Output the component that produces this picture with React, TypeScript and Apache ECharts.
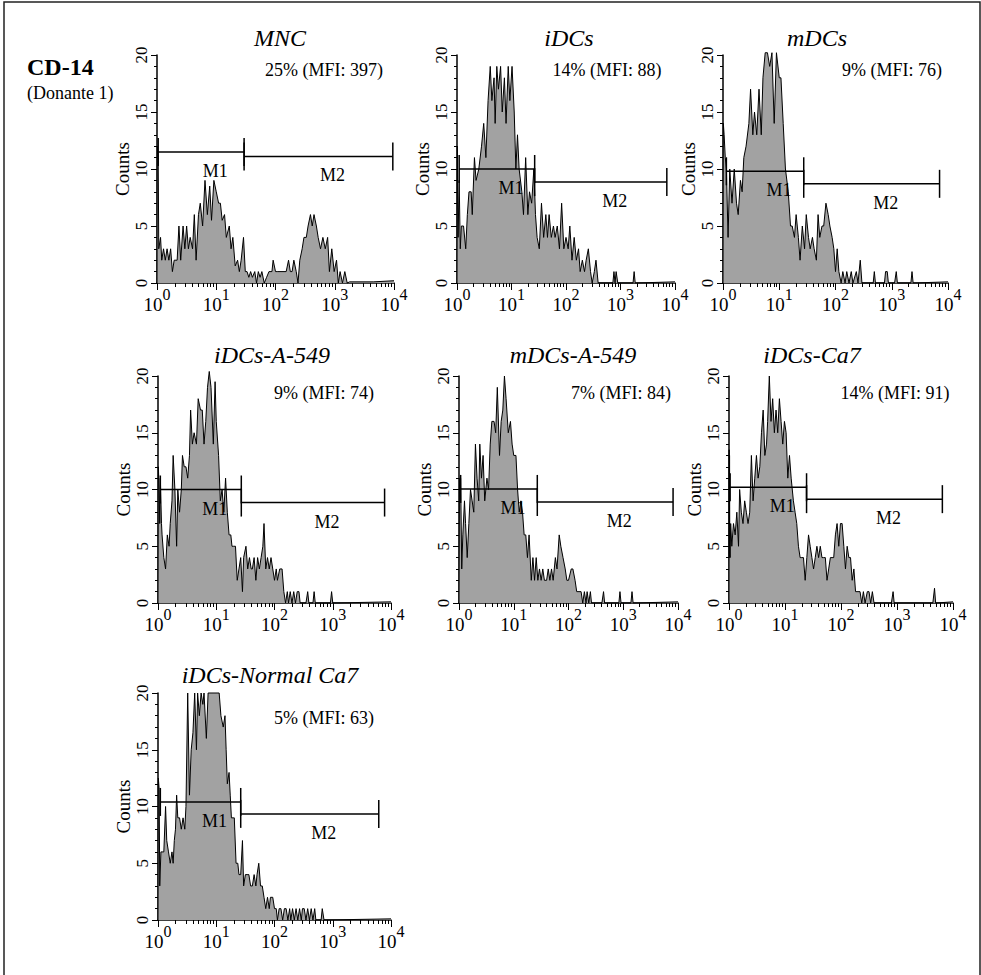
import React, { useEffect, useRef } from "react";
import * as echarts from "echarts";

// ---------- DATA (x in log10 units of fluorescence, y = counts) ----------
const panelTitles = ["MNC", "iDCs", "mDCs", "iDCs-A-549", "mDCs-A-549", "iDCs-Ca7", "iDCs-Normal Ca7"];
const percents = ["25%", "14%", "9%", "9%", "7%", "14%", "5%"];
const mfiValues = [397, 88, 76, 74, 84, 91, 63];
const markerNames = ["M1", "M2"];
const xTickDecades = [0, 1, 2, 3, 4];
const yTicks = [0, 5, 10, 15, 20];

// gates: [start (log10), end (log10), level (counts)]
const m1Gates = [
  [0.02, 1.47, 11.5], [0.04, 1.425, 10.0], [0.06, 1.435, 9.8], [0.04, 1.43, 10.0],
  [0.03, 1.43, 10.05], [0.02, 1.385, 10.2], [0.04, 1.42, 10.4],
];
const m2Gates = [
  [1.47, 3.98, 11.1], [1.425, 3.85, 8.85], [1.435, 3.85, 8.7], [1.43, 3.89, 8.85],
  [1.43, 3.91, 8.9], [1.385, 3.81, 9.15], [1.42, 3.79, 9.35],
];

const mncData = [[0,0],[0.005,12],[0.02,11],[0.03,3],[0.06,4],[0.08,2],[0.11,3],[0.14,2],[0.17,3],[0.2,2],[0.23,3],[0.26,1],[0.29,2],[0.34,2],[0.37,5],[0.4,2],[0.44,5],[0.47,3],[0.5,5],[0.53,3],[0.56,4],[0.6,3],[0.63,6],[0.66,2],[0.7,6],[0.73,7],[0.77,5],[0.81,9],[0.85,6],[0.89,8.5],[0.92,5.5],[0.96,9],[1.0,8],[1.04,7],[1.07,7],[1.1,5.5],[1.14,6],[1.17,4],[1.22,5],[1.25,3],[1.28,4],[1.32,1.5],[1.36,2],[1.39,1],[1.42,2],[1.46,4],[1.49,1],[1.52,1],[1.55,0.5],[1.58,1],[1.61,0.5],[1.65,1],[1.68,0],[1.71,1],[1.74,0.5],[1.77,1],[1.81,0],[1.85,0.5],[1.89,1],[1.94,1],[1.96,2],[2.0,1],[2.04,1],[2.18,1],[2.22,2],[2.25,1],[2.28,1],[2.31,2],[2.35,1],[2.38,0],[2.41,2],[2.45,3],[2.48,4],[2.52,4],[2.55,5],[2.59,6],[2.62,5],[2.65,6],[2.69,5],[2.72,4],[2.76,3],[2.8,4],[2.84,3],[2.88,4],[2.91,1],[2.95,3],[2.99,1],[3.03,2],[3.06,0],[3.09,1],[3.13,0],[3.17,1],[3.21,0],[3.25,0.1],[3.65,0.1],[4.0,0.2]];

const idcsData = [[0,0],[0.006,12],[0.02,4],[0.04,9],[0.06,3],[0.08,5],[0.12,5],[0.16,3],[0.19,6],[0.22,8],[0.26,8],[0.28,6],[0.32,11],[0.35,9],[0.4,10],[0.45,12],[0.49,14],[0.53,11],[0.57,16],[0.61,19],[0.64,16],[0.68,18],[0.7,14],[0.73,19],[0.76,17],[0.8,19],[0.83,15],[0.87,18],[0.9,14],[0.94,19],[0.97,16],[1.01,19],[1.05,15],[1.08,10],[1.11,13],[1.14,10],[1.19,8],[1.22,6],[1.26,11],[1.3,6],[1.33,8],[1.37,7],[1.41,10],[1.44,6],[1.47,4],[1.51,3],[1.55,7],[1.59,4],[1.63,6],[1.66,4],[1.69,6],[1.73,4],[1.77,5],[1.8,4],[1.84,5],[1.88,3],[1.92,7],[1.96,3],[2.0,4],[2.04,3],[2.07,5],[2.11,2],[2.15,4],[2.19,2],[2.23,3],[2.26,1],[2.3,2],[2.34,1],[2.37,2],[2.41,3],[2.45,1],[2.48,0],[2.52,1],[2.55,2],[2.59,0],[2.86,0],[2.88,1],[2.9,0],[2.92,1],[2.95,0],[3.23,0],[3.25,1],[3.27,0],[4.0,0.1]];

const mdcsData = [[0,0],[0.006,14],[0.02,13],[0.04,11],[0.06,10],[0.09,4],[0.12,10],[0.16,7],[0.2,10],[0.24,7],[0.27,6],[0.31,9],[0.34,8],[0.37,11],[0.41,12],[0.46,14],[0.49,17],[0.53,13],[0.56,15],[0.6,13],[0.64,17],[0.68,13],[0.71,18],[0.75,20.2],[0.79,20.2],[0.83,19],[0.87,20.2],[0.91,14],[0.95,20.2],[1.0,18],[1.03,18],[1.07,14],[1.11,10],[1.16,8],[1.2,5],[1.23,5],[1.27,4],[1.3,6],[1.34,4],[1.37,2],[1.41,5],[1.45,3],[1.48,6],[1.52,4],[1.55,3],[1.59,4],[1.62,3],[1.66,2],[1.69,6],[1.72,4],[1.76,5],[1.79,5],[1.83,7],[1.87,6],[1.9,5],[1.94,4],[1.97,3],[2.0,1],[2.03,3],[2.06,1],[2.1,0],[2.13,1],[2.17,0],[2.2,1],[2.24,0],[2.28,1],[2.31,0],[2.37,1],[2.4,0],[2.44,2],[2.47,0],[2.67,0],[2.69,1],[2.71,0],[2.87,0],[2.89,1],[2.92,1],[2.94,0],[3.05,0],[3.08,1],[3.1,0],[3.34,0],[3.36,1],[3.38,0],[4.0,0.1]];

const idcsA549Data = [[0,0],[0.006,12],[0.02,10],[0.03,7],[0.04,11],[0.06,7],[0.07,6],[0.1,4],[0.13,3],[0.16,6],[0.19,5],[0.21,7],[0.24,9],[0.26,13],[0.29,10],[0.32,5],[0.34,10],[0.37,8],[0.4,10],[0.42,13],[0.45,12],[0.48,12],[0.51,11],[0.54,13],[0.56,17],[0.59,14],[0.62,15],[0.66,14],[0.69,18],[0.73,17],[0.76,17],[0.79,14],[0.82,16],[0.85,19],[0.88,20.4],[0.91,19],[0.95,14],[0.98,19.5],[1.0,16],[1.04,13],[1.07,9],[1.1,10],[1.13,8],[1.16,11],[1.19,8],[1.22,6],[1.25,6],[1.27,5],[1.3,5],[1.33,5],[1.36,2],[1.39,3],[1.42,4],[1.45,1],[1.47,4],[1.51,5],[1.54,3],[1.57,4],[1.6,3],[1.62,3],[1.65,4],[1.68,2],[1.71,4],[1.74,3],[1.77,4],[1.8,5],[1.82,7],[1.85,3],[1.88,4],[1.91,3],[1.94,4],[1.97,3],[2.0,2],[2.03,3],[2.05,2],[2.09,3],[2.13,3],[2.16,1],[2.19,0],[2.22,1],[2.24,0],[2.27,1],[2.3,0],[2.33,1],[2.36,0],[2.39,1],[2.42,1],[2.44,0],[2.54,0],[2.57,1],[2.59,0],[2.66,0],[2.68,1],[2.7,0],[2.96,0],[2.98,1],[3.0,0],[4.0,0.1]];

const mdcsA549Data = [[0,0],[0.01,11],[0.03,11],[0.05,3],[0.07,6],[0.1,9],[0.12,7],[0.15,4],[0.18,7],[0.21,10],[0.24,9],[0.27,8],[0.3,14],[0.33,11],[0.36,9],[0.38,14],[0.41,11],[0.44,13],[0.47,9],[0.51,11],[0.54,10],[0.57,14],[0.6,16],[0.64,16],[0.67,15],[0.7,19],[0.74,13],[0.77,16],[0.8,17],[0.83,20],[0.86,18],[0.9,15],[0.94,16],[0.97,14],[1.0,13],[1.04,13],[1.07,10],[1.1,8],[1.13,9],[1.16,8],[1.19,6],[1.22,6],[1.25,4],[1.28,6],[1.32,2],[1.35,4],[1.38,2],[1.41,4],[1.44,2],[1.47,3],[1.5,2],[1.53,3],[1.56,2],[1.6,2],[1.63,3],[1.66,2],[1.69,3],[1.72,2],[1.76,4],[1.79,3],[1.83,6],[1.86,5],[1.9,4],[1.94,3],[1.97,2],[2.0,2],[2.05,3],[2.08,3],[2.12,2],[2.15,1],[2.23,1],[2.26,0],[2.29,1],[2.32,0],[2.34,1],[2.37,0],[2.4,1],[2.42,0],[2.61,0],[2.64,1],[2.66,0],[2.92,0],[2.94,1],[2.96,0],[3.14,0],[3.16,1],[3.18,0],[4.0,0.1]];

const idcsCa7Data = [[0,0],[0.003,13.5],[0.006,4],[0.01,13],[0.014,5],[0.02,4],[0.03,7],[0.05,5],[0.08,7],[0.11,6],[0.14,8],[0.17,5],[0.19,10],[0.22,8],[0.25,7],[0.28,9],[0.31,8],[0.34,7],[0.37,8],[0.4,13],[0.43,9],[0.46,11],[0.49,13],[0.52,11],[0.55,12],[0.58,15],[0.61,17],[0.64,13],[0.67,14],[0.69,16],[0.72,20],[0.75,16],[0.78,18],[0.81,15],[0.84,17],[0.87,15],[0.9,18],[0.93,16],[0.96,14],[0.99,16],[1.02,15],[1.05,11],[1.08,13],[1.11,11],[1.15,9],[1.18,8],[1.21,7],[1.24,5],[1.27,4],[1.3,4],[1.33,4],[1.36,2],[1.39,4],[1.42,6],[1.45,5],[1.48,4],[1.51,3],[1.54,4],[1.57,5],[1.6,4],[1.63,5],[1.66,4],[1.69,4],[1.72,4],[1.75,2],[1.78,3],[1.81,4],[1.84,4],[1.87,4],[1.9,6],[1.93,7],[1.96,5],[1.99,7],[2.02,7],[2.05,5],[2.08,3],[2.11,5],[2.14,4],[2.17,4],[2.2,2],[2.23,3],[2.26,1],[2.34,1],[2.37,0],[2.4,1],[2.43,0],[2.47,1],[2.5,1],[2.53,0],[2.56,1],[2.59,0],[2.9,0],[2.93,1],[2.95,0],[3.64,0],[3.67,1.3],[3.69,0],[4.0,0.1]];

const idcsNormalCa7Data = [[0,0],[0.006,12.5],[0.02,11.5],[0.03,3],[0.05,6],[0.07,6],[0.1,6],[0.13,10],[0.15,7],[0.18,6],[0.21,5],[0.24,6],[0.26,5],[0.28,7],[0.3,8],[0.32,11],[0.34,9],[0.37,9],[0.4,8],[0.43,9],[0.46,8],[0.48,10],[0.51,20],[0.54,11],[0.57,15],[0.6,16.5],[0.63,20],[0.66,15],[0.68,20],[0.71,18],[0.74,20],[0.77,19],[0.79,20],[0.83,16],[0.86,20],[1.05,20],[1.08,18],[1.12,17],[1.15,18],[1.17,15],[1.19,12],[1.22,13],[1.24,11],[1.26,9],[1.29,9],[1.31,9],[1.34,5],[1.37,5],[1.39,4],[1.42,4],[1.45,7],[1.47,3],[1.5,4],[1.53,4],[1.56,4],[1.59,3],[1.62,3],[1.65,4],[1.68,3],[1.7,4],[1.73,5],[1.76,3],[1.79,3],[1.82,2],[1.85,1],[1.88,2],[1.91,1],[1.93,2],[1.97,2],[2.0,1],[2.03,1],[2.05,0],[2.08,1],[2.11,1],[2.14,0],[2.17,1],[2.2,1],[2.23,0],[2.26,1],[2.28,0],[2.31,1],[2.34,0],[2.37,1],[2.4,0],[2.43,1],[2.46,0],[2.48,1],[2.51,1],[2.54,0],[2.57,1],[2.6,0],[2.63,1],[2.66,0],[2.69,1],[2.71,0],[2.8,0],[2.82,1],[2.85,0],[4.0,0.1]];

const panelData = [mncData, idcsData, mdcsData, idcsA549Data, mdcsA549Data, idcsCa7Data, idcsNormalCa7Data];

// ---------- LAYOUT (pixels) ----------
const layout = [
  { left: 157, top: 55, width: 237, height: 228, tx: 280, ty: 38, nx: 324, ny: 70 },
  { left: 457, top: 55, width: 218, height: 228, tx: 569, ty: 38, nx: 607, ny: 70 },
  { left: 723, top: 55, width: 225, height: 228, tx: 817, ty: 38, nx: 892, ny: 70 },
  { left: 158, top: 376, width: 233, height: 227, tx: 272, ty: 355, nx: 324, ny: 393 },
  { left: 459, top: 376, width: 219, height: 227, tx: 573, ty: 355, nx: 621, ny: 393 },
  { left: 729, top: 376, width: 224, height: 227, tx: 812, ty: 355, nx: 895, ny: 393 },
  { left: 158, top: 693, width: 233, height: 227, tx: 270, ty: 675, nx: 324, ny: 718 },
];

const FONT = '"Liberation Serif", "Times New Roman", serif';
const FILL = "#a2a2a2";

const minorLogTicks: number[] = [];
for (let d = 0; d < 4; d++) {
  for (let k = 1; k <= 9; k++) minorLogTicks.push(d + Math.log10(k));
}
minorLogTicks.push(4);

export default function App() {
  const ref = useRef<HTMLDivElement>(null);
  useEffect(() => {
    if (!ref.current) return;
    const chart = echarts.init(ref.current, null, { renderer: "svg" });

    const grids: any[] = [];
    const xAxes: any[] = [];
    const yAxes: any[] = [];
    const series: any[] = [];
    const graphics: any[] = [];

    layout.forEach((L, i) => {
      grids.push({ left: L.left, top: L.top, width: L.width, height: L.height, containLabel: false });
      xAxes.push({
        gridIndex: i, type: "value", min: 0, max: 4, interval: 1, position: "bottom",
        axisLine: { show: true, onZero: false, lineStyle: { color: "#000", width: 1.5 } },
        axisTick: { show: true, length: 4, customValues: minorLogTicks, lineStyle: { color: "#000", width: 1 } },
        splitLine: { show: false },
        axisLabel: {
          show: true, margin: 3, customValues: xTickDecades,
          formatter: (v: number) => `{b|10}{s|${Math.round(v)}}`,
          rich: {
            b: { fontFamily: FONT, fontSize: 19, color: "#000", lineHeight: 28, verticalAlign: "bottom" },
            s: { fontFamily: FONT, fontSize: 16, color: "#000", lineHeight: 28, verticalAlign: "top" },
          },
        },
      });
      xAxes.push({
        gridIndex: i, type: "value", min: 0, max: 4, interval: 1, position: "bottom",
        axisLine: { show: false }, axisLabel: { show: false }, splitLine: { show: false },
        axisTick: { show: true, length: 7, lineStyle: { color: "#000", width: 1 } },
      });
      yAxes.push({
        gridIndex: i, type: "value", min: 0, max: 20, interval: 5,
        axisLine: { show: true, onZero: false, lineStyle: { color: "#000", width: 1.5 } },
        axisTick: { show: true, length: 6, lineStyle: { color: "#000", width: 1 } },
        minorTick: { show: true, splitNumber: 5, length: 3, lineStyle: { color: "#000", width: 1 } },
        splitLine: { show: false },
        axisLabel: { show: true, rotate: 90, margin: 7, fontFamily: FONT, fontSize: 17, color: "#000", customValues: yTicks },
        name: "Counts", nameLocation: "middle", nameGap: 24,
        nameTextStyle: { fontFamily: FONT, fontSize: 19, color: "#000" },
      });
      series.push({
        type: "line", xAxisIndex: 2 * i, yAxisIndex: i, data: panelData[i],
        symbol: "none", clip: false, silent: true,
        lineStyle: { color: "#000", width: 1 },
        areaStyle: { color: FILL, opacity: 1 },
        z: 2,
      });
      series.push({
        type: "custom", xAxisIndex: 2 * i, yAxisIndex: i, clip: false, silent: true, z: 4,
        data: [m1Gates[i], m2Gates[i]],
        renderItem: (params: any, api: any) => {
          const s = api.coord([api.value(0), api.value(2)]);
          const e = api.coord([api.value(1), api.value(2)]);
          const st = { stroke: "#000", lineWidth: 1.5 };
          return {
            type: "group",
            children: [
              { type: "line", shape: { x1: s[0], y1: s[1], x2: e[0], y2: e[1] }, style: st },
              { type: "line", shape: { x1: s[0], y1: s[1] - 14, x2: s[0], y2: s[1] + 14 }, style: st },
              { type: "line", shape: { x1: e[0], y1: e[1] - 14, x2: e[0], y2: e[1] + 14 }, style: st },
              {
                type: "text", x: (s[0] + e[0]) / 2 + 14, y: s[1] + 19,
                style: {
                  text: markerNames[params.dataIndex], fill: "#000",
                  font: `18px ${FONT}`, align: "center", verticalAlign: "middle",
                },
              },
            ],
          };
        },
      });
      graphics.push({
        type: "text", x: L.tx, y: L.ty, silent: true,
        style: { text: panelTitles[i], fill: "#000", font: `italic 24px ${FONT}`, align: "center", verticalAlign: "middle" },
      });
      graphics.push({
        type: "text", x: L.nx, y: L.ny, silent: true,
        style: { text: `${percents[i]} (MFI: ${mfiValues[i]})`, fill: "#000", font: `18px ${FONT}`, align: "center", verticalAlign: "middle" },
      });
    });

    graphics.push({
      type: "rect", silent: true, shape: { x: 4, y: 2, width: 976, height: 1010 },
      style: { fill: "none", stroke: "#222", lineWidth: 1.5 },
    });
    graphics.push({
      type: "text", x: 27, y: 67, silent: true,
      style: { text: "CD-14", fill: "#000", font: `bold 24px ${FONT}`, align: "left", verticalAlign: "middle" },
    });
    graphics.push({
      type: "text", x: 27, y: 93, silent: true,
      style: { text: "(Donante 1)", fill: "#000", font: `18px ${FONT}`, align: "left", verticalAlign: "middle" },
    });

    chart.setOption({
      animation: false,
      backgroundColor: "#fff",
      grid: grids,
      xAxis: xAxes,
      yAxis: yAxes,
      series,
      graphic: graphics,
    });
    return () => chart.dispose();
  }, []);

  return <div ref={ref} style={{ position: "absolute", left: 0, top: 0, width: 981, height: 975 }} />;
}
